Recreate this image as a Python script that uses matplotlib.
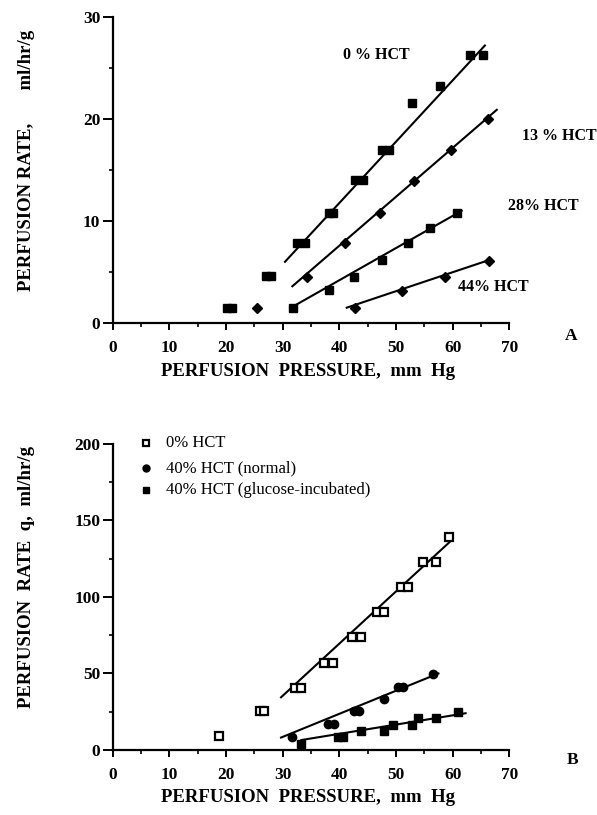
import matplotlib
matplotlib.use("Agg")
import matplotlib.pyplot as plt

# panel A data (perfusion pressure, perfusion rate)
a0_x = [20.1, 21.1, 27.1, 28.0, 32.6, 34.0, 38.2, 38.9, 42.8, 44.2, 47.6, 48.8, 52.8, 57.8, 63.1, 65.4]
a0_y = [1.5, 1.5, 4.6, 4.6, 7.8, 7.8, 10.8, 10.8, 14.0, 14.0, 17.0, 17.0, 21.6, 23.2, 26.3, 26.3]
a0_fit_x = [30.4, 65.7]
a0_fit_y = [6.0, 27.2]

a13_x = [25.4, 34.3, 41.0, 47.1, 53.2, 59.8, 66.3]
a13_y = [1.5, 4.5, 7.8, 10.8, 13.9, 17.0, 20.0]
a13_fit_x = [31.7, 67.8]
a13_fit_y = [3.6, 20.9]

a28_x = [31.9, 38.2, 42.6, 47.5, 52.2, 56.0, 60.7]
a28_y = [1.5, 3.2, 4.5, 6.2, 7.8, 9.3, 10.75]
a28_fit_x = [31.3, 61.6]
a28_fit_y = [1.45, 11.0]

a44_x = [42.8, 51.0, 58.7, 66.4]
a44_y = [1.5, 3.1, 4.5, 6.1]
a44_fit_x = [41.3, 66.6]
a44_fit_y = [1.5, 6.2]

# panel B data
b0_x = [18.7, 25.9, 26.7, 32.2, 33.2, 37.3, 38.9, 42.3, 43.9, 46.7, 47.8, 50.9, 52.1, 54.7, 57.1, 59.4]
b0_y = [9.2, 25.5, 25.5, 40.7, 40.7, 57.0, 57.0, 73.6, 73.6, 90.4, 90.4, 106.8, 106.8, 122.7, 122.7, 139.0]
b0_fit_x = [29.7, 59.8]
b0_fit_y = [34.4, 137.0]

bn_x = [31.6, 38.0, 39.0, 42.5, 43.5, 47.8, 50.3, 51.3, 56.6]
bn_y = [8.7, 16.8, 16.8, 25.5, 25.5, 33.3, 41.0, 41.0, 49.7]
bn_fit_x = [29.7, 57.5]
bn_fit_y = [8.1, 50.0]

bg_x = [33.2, 39.8, 40.7, 43.9, 47.8, 49.4, 52.8, 53.9, 57.0, 60.9]
bg_y = [3.9, 8.7, 8.7, 12.6, 12.6, 16.3, 16.3, 20.7, 20.7, 24.6]
bg_fit_x = [33.3, 62.3]
bg_fit_y = [6.5, 24.0]

legend_labels = ["0% HCT", "40% HCT (normal)", "40% HCT (glucose-incubated)"]

plt.rcParams['font.family'] = ['Liberation Serif', 'DejaVu Serif']

fig = plt.figure(figsize=(5.97, 8.15), dpi=100)
axA = fig.add_axes([0.189, 0.6037, 0.664, 0.3755])
axB = fig.add_axes([0.189, 0.0798, 0.664, 0.3755])


def style_axes(ax, ymax, ystep):
    ax.set_xlim(0, 70)
    ax.set_ylim(0, ymax)
    for s in ["top", "right"]:
        ax.spines[s].set_visible(False)
    for s in ["left", "bottom"]:
        ax.spines[s].set_linewidth(1.6)
    ax.set_xticks(range(0, 71, 10))
    ax.set_xticks(range(5, 70, 10), minor=True)
    ax.set_yticks(range(0, ymax + 1, ystep))
    ax.set_yticks(range(ystep // 2, ymax, ystep), minor=True)
    ax.tick_params(which="major", width=1.4, labelsize=12.5)
    ax.tick_params(which="minor", length=3, width=1.2)
    ax.tick_params(axis="x", which="major", length=5, pad=7)
    ax.tick_params(axis="y", which="major", length=7, pad=2)
    for lab in ax.get_xticklabels() + ax.get_yticklabels():
        lab.set_fontweight("bold")


kw = dict(color="black", lw=1.5)
# panel A
axA.plot(a0_fit_x, a0_fit_y, **kw)
axA.plot(a13_fit_x, a13_fit_y, **kw)
axA.plot(a28_fit_x, a28_fit_y, **kw)
axA.plot(a44_fit_x, a44_fit_y, **kw)
axA.plot(a0_x, a0_y, "s", color="black", ms=6.3, clip_on=False)
axA.plot(a13_x, a13_y, "D", color="black", ms=4.8, clip_on=False)
axA.plot(a28_x, a28_y, "s", color="black", ms=6.3, clip_on=False)
axA.plot(a44_x, a44_y, "D", color="black", ms=4.8, clip_on=False)
style_axes(axA, 30, 10)

tkw = dict(fontsize=11.5, fontweight="bold", va="center", clip_on=False)
axA.text(40.6, 26.3, "0 % HCT", **tkw)
axA.text(72.2, 18.3, "13 % HCT", **tkw)
axA.text(69.7, 11.5, "28% HCT", **tkw)
axA.text(61.0, 3.5, "44% HCT", **tkw)
axA.text(81.0, -1.3, "A", fontsize=12.5, fontweight="bold", ha="center", va="center")

# panel B
axB.plot(b0_fit_x, b0_fit_y, **kw)
axB.plot(bn_fit_x, bn_fit_y, **kw)
axB.plot(bg_fit_x, bg_fit_y, **kw)
axB.plot(b0_x, b0_y, "s", mfc="white", mec="black", mew=1.6, ms=5.5, clip_on=False)
axB.plot(bn_x, bn_y, "o", color="black", ms=6, clip_on=False)
axB.plot(bg_x, bg_y, "s", color="black", ms=6, clip_on=False)
style_axes(axB, 200, 50)

axB.plot([5.8], [200.7], "s", mfc="white", mec="black", mew=1.6, ms=5, clip_on=False)
axB.plot([5.8], [184.3], "o", color="black", ms=5, clip_on=False)
axB.plot([5.8], [169.9], "s", color="black", ms=5, clip_on=False)
for yy, lab in zip([200.7, 184.3, 169.9], legend_labels):
    axB.text(9.4, yy, lab, fontsize=12, va="center", clip_on=False)
axB.text(81.2, -6.5, "B", fontsize=12.5, fontweight="bold", ha="center", va="center")

# axis labels
lkw = dict(fontsize=13.5, fontweight="bold", ha="center", va="center")
fig.text(27 / 597, 1 - 160 / 815, "PERFUSION RATE,       ml/hr/g", rotation=90, **lkw)
fig.text(308 / 597, 1 - 372 / 815, "PERFUSION  PRESSURE,  mm  Hg", **lkw)
fig.text(27 / 597, 1 - 577 / 815, "PERFUSION  RATE  q,  ml/hr/g", rotation=90, **lkw)
fig.text(308 / 597, 1 - 798 / 815, "PERFUSION  PRESSURE,  mm  Hg", **lkw)

fig.savefig("out.png", dpi=100)
